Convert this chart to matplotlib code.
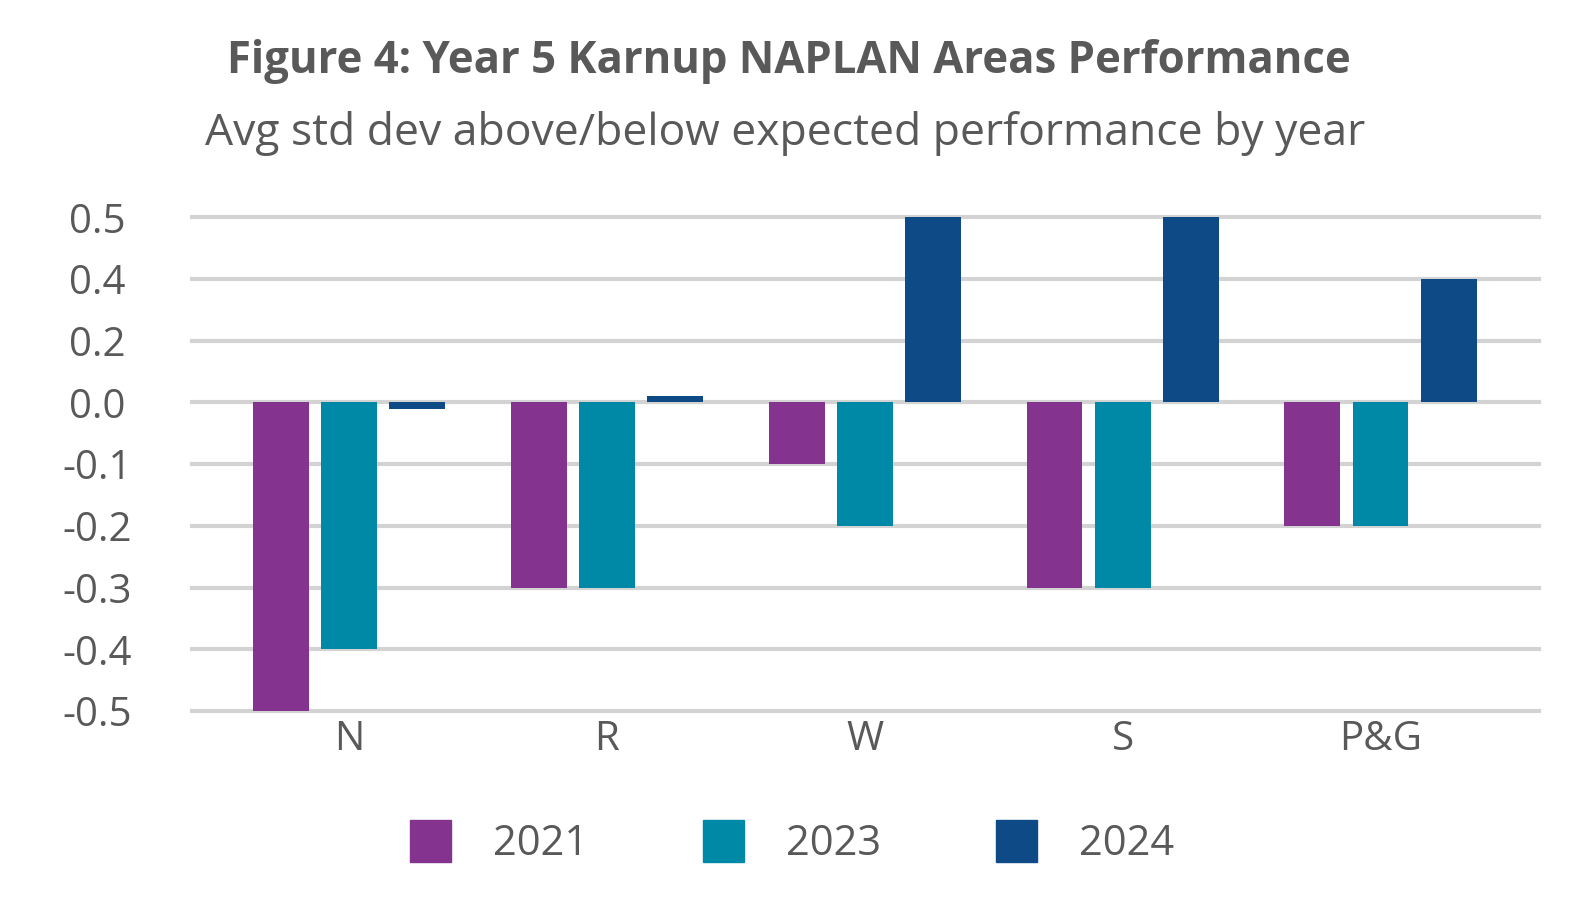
import numpy as np
import matplotlib
matplotlib.use("Agg")
import matplotlib.pyplot as plt
from matplotlib.patches import Patch

plt.rcParams['font.family'] = ['Open Sans', 'DejaVu Sans']

# Data
areas = ['N', 'R', 'W', 'S', 'P&G']
years = ['2021', '2023', '2024']
y2021 = [-0.5, -0.3, -0.1, -0.3, -0.2]
y2023 = [-0.4, -0.3, -0.2, -0.3, -0.2]
y2024 = [-0.01, 0.02, 0.5, 0.5, 0.4]
tick_vals = [-0.5, -0.4, -0.3, -0.2, -0.1, 0.0, 0.2, 0.4, 0.5]

colors = ['#84338F', '#0089A6', '#0E4A86']
text_col = '#595959'

# the original axis puts uneven tick values at even spacing
tick_pos = np.arange(len(tick_vals)) - 5.0


def fwd(v):
    return np.interp(v, tick_vals, tick_pos)


def inv(p):
    return np.interp(p, tick_pos, tick_vals)


fig = plt.figure(figsize=(15.87, 9.21), dpi=100)
ax = fig.add_axes([0.121, 0.228, 0.849, 0.536])
ax.set_yscale('function', functions=(fwd, inv))

x = np.arange(len(areas))
step = 0.264
width = 0.217
for i, (vals, c, lab) in enumerate(zip([y2021, y2023, y2024], colors, years)):
    ax.bar(x + (i - 1) * step, vals, width, color=c, label=lab, zorder=3)

ax.set_ylim(-0.5, 0.5)
ax.set_xlim(-0.608, 4.616)
ax.set_yticks(tick_vals)
ax.set_yticklabels([f'{v:.1f}' for v in tick_vals])
ax.set_xticks(x)
ax.set_xticklabels(areas)
ax.grid(axis='y', color='#D3D3D3', linewidth=3, zorder=0)
for ln in ax.get_ygridlines():
    ln.set_clip_on(False)
for s in ax.spines.values():
    s.set_visible(False)
ax.tick_params(axis='both', length=0, colors=text_col, labelsize=29)
ax.tick_params(axis='y', pad=68)
for t in ax.get_yticklabels():
    t.set_horizontalalignment('center')
ax.tick_params(axis='x', pad=6)

fig.text(0.497, 0.933, 'Figure 4: Year 5 Karnup NAPLAN Areas Performance',
         ha='center', va='center', fontsize=31.5, fontweight='bold', color=text_col)
fig.text(0.495, 0.855, 'Avg std dev above/below expected performance by year',
         ha='center', va='center', fontsize=32, color=text_col)

handles = [Patch(color=c) for c in colors]
fig.legend(handles, years, loc='center', bbox_to_anchor=(0.499, 0.085), ncol=3,
           frameon=False, fontsize=30, labelcolor=text_col,
           handlelength=1.0, handleheight=1.15, handletextpad=1.0, columnspacing=2.75)

fig.savefig('out.png', dpi=100)
